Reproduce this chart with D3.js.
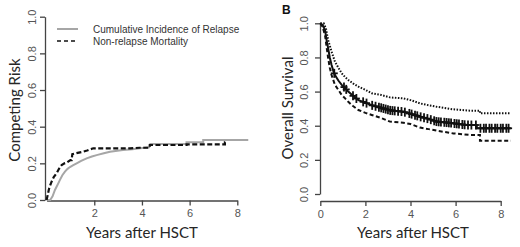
<!DOCTYPE html>
<html>
<head>
<meta charset="utf-8">
<script src="https://cdn.jsdelivr.net/npm/d3@7"></script>
<style>
  body { margin: 0; background: #fff; }
  svg text { font-family: "Liberation Sans", Arial, sans-serif; }
  .tick text { fill: #555; font-size: 11px; }
  .domain, .tick line { stroke: #444; stroke-width: 1.3; }
  .title { font-family: Lato, "Open Sans", sans-serif !important; fill: #262626; }
</style>
</head>
<body>
<div id="chart"></div>
<script>
// panel A - competing risks (years, cumulative incidence)
const relapseT = [0, 0.15, 0.25, 0.35, 0.45, 0.56, 0.66, 0.77, 0.88, 0.98, 1.12, 1.26, 1.45, 1.68, 1.9, 2.1, 2.4, 2.66, 3.2, 3.6, 3.92, 4.3, 4.35, 5.87, 5.87, 6.57, 6.57, 8.46];
const relapseV = [0, 0, 0.02, 0.055, 0.08, 0.11, 0.135, 0.155, 0.17, 0.18, 0.19, 0.2, 0.213, 0.227, 0.237, 0.245, 0.255, 0.263, 0.273, 0.277, 0.282, 0.288, 0.305, 0.305, 0.315, 0.315, 0.327, 0.327];
const nrmT = [0, 0.05, 0.1, 0.15, 0.21, 0.3, 0.42, 0.52, 0.63, 0.75, 0.84, 1.0, 1.05, 1.08, 1.3, 1.54, 1.7, 1.82, 1.96, 3.5, 3.9, 4.33, 4.33, 5.87, 5.87, 7.48, 7.48, 7.58];
const nrmV = [0, 0.03, 0.06, 0.08, 0.1, 0.125, 0.146, 0.17, 0.19, 0.2, 0.204, 0.218, 0.218, 0.25, 0.257, 0.264, 0.27, 0.276, 0.282, 0.282, 0.285, 0.285, 0.3, 0.3, 0.304, 0.304, 0.315, 0.315];
const legendLabels = ["Cumulative Incidence of Relapse", "Non-relapse Mortality"];

// panel B - overall survival with confidence band
const osT = [0, 0.1, 0.21, 0.28, 0.35, 0.42, 0.5, 0.58, 0.65, 0.8, 0.95, 1.1, 1.24, 1.45, 1.69, 2.0, 2.28, 2.7, 3.09, 3.68, 4.0, 4.42, 4.8, 5.16, 5.5, 5.9, 6.49, 6.94, 6.94, 8.45];
const osV = [1, 0.99, 0.96, 0.9, 0.853, 0.8, 0.756, 0.72, 0.697, 0.665, 0.639, 0.62, 0.6, 0.575, 0.55, 0.535, 0.52, 0.505, 0.49, 0.482, 0.47, 0.453, 0.44, 0.424, 0.42, 0.414, 0.404, 0.404, 0.385, 0.385];
const upT = [0, 0.15, 0.25, 0.35, 0.42, 0.5, 0.65, 0.8, 0.95, 1.1, 1.24, 1.45, 1.69, 2.0, 2.28, 2.7, 3.09, 3.68, 4.0, 4.42, 4.8, 5.16, 5.9, 6.64, 7.08, 7.08, 8.45];
const upV = [1, 1, 0.97, 0.9, 0.87, 0.834, 0.775, 0.74, 0.707, 0.685, 0.668, 0.648, 0.629, 0.61, 0.59, 0.58, 0.566, 0.56, 0.55, 0.531, 0.52, 0.511, 0.496, 0.488, 0.488, 0.473, 0.473];
const loT = [0, 0.1, 0.21, 0.28, 0.35, 0.42, 0.5, 0.65, 0.8, 0.95, 1.1, 1.24, 1.45, 1.69, 2.0, 2.28, 2.7, 3.09, 3.68, 4.0, 4.42, 4.8, 5.16, 5.9, 6.64, 7.08, 7.08, 8.45];
const loV = [1, 0.98, 0.93, 0.86, 0.795, 0.74, 0.697, 0.639, 0.61, 0.58, 0.56, 0.54, 0.515, 0.492, 0.475, 0.463, 0.445, 0.424, 0.418, 0.41, 0.389, 0.38, 0.371, 0.355, 0.346, 0.346, 0.312, 0.312];
const censorT = [0.62, 1.05, 1.15, 1.45, 1.6, 1.9, 2.05, 2.3, 2.45, 2.6, 2.7, 2.8, 2.9, 3.0, 3.1, 3.2, 3.3, 3.45, 3.6, 3.75, 3.95, 4.05, 4.2, 4.3, 4.45, 4.6, 4.75, 4.9, 5.05, 5.15, 5.25, 5.35, 5.5, 5.6, 5.7, 5.8, 5.95, 6.05, 6.15, 6.3, 6.4, 6.55, 6.7, 6.9, 7.1, 7.25, 7.35, 7.5, 7.6, 7.75, 7.85, 8.0, 8.1, 8.25, 8.35];

const yTicks = [0, 0.2, 0.4, 0.6, 0.8, 1.0];

const svg = d3.select("#chart").append("svg").attr("width", 520).attr("height", 247);

const zip = (t, v) => t.map((d, i) => [d, v[i]]);

function panel(x, y, opts) {
  const g = svg.append("g");
  // y axis
  const ya = g.append("g")
    .attr("transform", "translate(" + opts.yAxisX + ",0)")
    .call(d3.axisLeft(y).tickValues(yTicks).tickFormat(d3.format(".1f")).tickSize(5).tickSizeOuter(0));
  ya.selectAll(".tick text")
    .attr("transform", "rotate(-90)")
    .attr("x", 0)
    .attr("y", -opts.labelGap)
    .attr("dy", 0)
    .attr("text-anchor", "middle");
  // x axis
  const xa = g.append("g")
    .attr("transform", "translate(0," + opts.xAxisY + ")")
    .call(d3.axisBottom(x).tickValues(opts.xTicks).tickFormat(d3.format("d")).tickSize(5).tickSizeOuter(0));
  xa.selectAll(".tick text").attr("y", 9);

  g.append("text").attr("class", "title")
    .attr("x", opts.xTitleX).attr("y", 238)
    .attr("text-anchor", "middle").attr("font-size", 15)
    .text("Years after HSCT");
  g.append("text").attr("class", "title")
    .attr("transform", "translate(" + opts.yTitleX + "," + opts.yTitleY + ") rotate(-90)")
    .attr("text-anchor", "middle").attr("font-size", 15)
    .text(opts.yTitle);
  return g;
}

// ---- panel A
const xA = d3.scaleLinear().domain([0, 8]).range([46.6, 237.3]);
const yA = d3.scaleLinear().domain([0, 1]).range([200, 16.7]);
const gA = panel(xA, yA, { yAxisX: 45, xAxisY: 200.5, xTicks: [2, 4, 6, 8], labelGap: 9,
  xTitleX: 142, yTitleX: 20, yTitleY: 110, yTitle: "Competing Risk" });

const lineA = d3.line().x(d => xA(d[0])).y(d => yA(d[1]));
gA.append("path").datum(zip(relapseT, relapseV))
  .attr("d", lineA).attr("fill", "none").attr("stroke", "#a6a6a6").attr("stroke-width", 2);
gA.append("path").datum(zip(nrmT, nrmV))
  .attr("d", lineA).attr("fill", "none").attr("stroke", "#111").attr("stroke-width", 2.2)
  .attr("stroke-dasharray", "5,2.5");

// legend
const leg = gA.append("g");
leg.append("line").attr("x1", 57).attr("x2", 78).attr("y1", 29).attr("y2", 29)
  .attr("stroke", "#a6a6a6").attr("stroke-width", 2);
leg.append("line").attr("x1", 57).attr("x2", 78).attr("y1", 41).attr("y2", 41)
  .attr("stroke", "#111").attr("stroke-width", 1.6).attr("stroke-dasharray", "4,3");
legendLabels.forEach((t, i) => {
  leg.append("text").attr("x", 93).attr("y", 32.5 + i * 12)
    .attr("font-size", 10).attr("fill", "#333").text(t);
});

// ---- panel B
const xB = d3.scaleLinear().domain([0, 8]).range([320.3, 500.7]);
const yB = d3.scaleLinear().domain([0, 1]).range([194, 23.3]);
const gB = panel(xB, yB, { yAxisX: 320, xAxisY: 201, xTicks: [0, 2, 4, 6, 8], labelGap: 12,
  xTitleX: 413, yTitleX: 293, yTitleY: 108, yTitle: "Overall Survival" });

gB.append("text").attr("x", 282).attr("y", 14)
  .attr("font-size", 12).attr("font-weight", "bold").attr("fill", "#111").text("B");

const lineB = d3.line().x(d => xB(d[0])).y(d => yB(d[1]));
gB.append("path").datum(zip(upT, upV))
  .attr("d", lineB).attr("fill", "none").attr("stroke", "#111").attr("stroke-width", 2)
  .attr("stroke-dasharray", "1.5,1.5");
gB.append("path").datum(zip(loT, loV))
  .attr("d", lineB).attr("fill", "none").attr("stroke", "#111").attr("stroke-width", 2)
  .attr("stroke-dasharray", "4,2.5");
gB.append("path").datum(zip(osT, osV))
  .attr("d", lineB).attr("fill", "none").attr("stroke", "#111").attr("stroke-width", 2);

// censor marks sit on the survival curve
function osAt(t) {
  let i = osT.findIndex(v => v > t);
  if (i <= 0) return osV[osV.length - 1];
  const t0 = osT[i - 1], t1 = osT[i];
  return osV[i - 1] + (osV[i] - osV[i - 1]) * (t - t0) / (t1 - t0);
}
const cross = gB.selectAll(".cens").data(censorT).enter().append("g")
  .attr("transform", d => "translate(" + xB(d) + "," + yB(osAt(d)) + ")");
cross.append("line").attr("x1", -3.5).attr("x2", 3.5).attr("stroke", "#111").attr("stroke-width", 1.8);
cross.append("line").attr("y1", -4.5).attr("y2", 4.5).attr("stroke", "#111").attr("stroke-width", 1.8);
</script>
</body>
</html>
